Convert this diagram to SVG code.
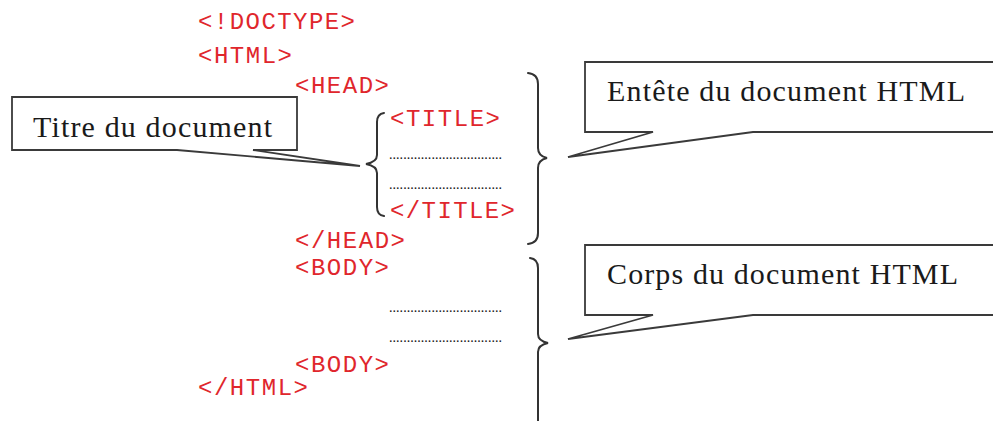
<svg xmlns="http://www.w3.org/2000/svg" width="993" height="421" viewBox="0 0 993 421">
<style>
.code{font-family:"Liberation Mono","Courier New",monospace;font-size:24px;fill:#e0262c;}
.dots{font-family:"Liberation Serif","Times New Roman",serif;font-size:14px;fill:#111;}
.lbl{font-family:"Liberation Serif","Times New Roman",serif;font-size:30px;fill:#1a1a1a;}
.box{fill:#fff;stroke:#3a3a3a;stroke-width:1.8;stroke-linejoin:miter;}
.brace{fill:none;stroke:#333;stroke-width:2;stroke-linecap:round;}
</style>
<rect width="993" height="421" fill="#fff"/>
<g id="code">
<g id="doctype"><text class="code" x="198" y="29" textLength="157" lengthAdjust="spacing">&lt;!DOCTYPE&gt;</text></g>
<g id="html-open"><text class="code" x="198" y="63" textLength="94" lengthAdjust="spacing">&lt;HTML&gt;</text></g>
<g id="head-open"><text class="code" x="295" y="93" textLength="94" lengthAdjust="spacing">&lt;HEAD&gt;</text></g>
<g id="title-open"><text class="code" x="390" y="126" textLength="110" lengthAdjust="spacing">&lt;TITLE&gt;</text></g>
<g id="title-dots1"><text class="dots" x="389" y="159" textLength="113" lengthAdjust="spacing">................................</text></g>
<g id="title-dots2"><text class="dots" x="389" y="189" textLength="113" lengthAdjust="spacing">................................</text></g>
<g id="title-close"><text class="code" x="390" y="218" textLength="125" lengthAdjust="spacing">&lt;/TITLE&gt;</text></g>
<g id="head-close"><text class="code" x="295" y="248" textLength="110" lengthAdjust="spacing">&lt;/HEAD&gt;</text></g>
<g id="body-open"><text class="code" x="295" y="275" textLength="94" lengthAdjust="spacing">&lt;BODY&gt;</text></g>
<g id="body-dots1"><text class="dots" x="389" y="312" textLength="113" lengthAdjust="spacing">................................</text></g>
<g id="body-dots2"><text class="dots" x="389" y="342" textLength="113" lengthAdjust="spacing">................................</text></g>
<g id="body-close"><text class="code" x="295" y="372" textLength="94" lengthAdjust="spacing">&lt;BODY&gt;</text></g>
<g id="html-close"><text class="code" x="198" y="395" textLength="110" lengthAdjust="spacing">&lt;/HTML&gt;</text></g>
</g>
<g id="callout-titre">
<path class="box" d="M12,97 L297,97 L297,150 L253,150 L360,166 L177,150 L12,150 Z"/>
<text class="lbl" x="33" y="137" textLength="239" lengthAdjust="spacing">Titre du document</text>
</g>
<g id="callout-entete">
<path class="box" d="M585,62 L996,62 L996,132 L753,132 L568,157 L653,132 L585,132 Z"/>
<text class="lbl" x="607" y="101" textLength="358" lengthAdjust="spacing">Entête du document HTML</text>
</g>
<g id="callout-corps">
<path class="box" d="M585,245 L996,245 L996,315 L753,315 L568,339 L653,315 L585,315 Z"/>
<text class="lbl" x="607" y="284" textLength="351" lengthAdjust="spacing">Corps du document HTML</text>
</g>
<g id="connectors">
<path class="brace" d="M384,113 Q377,114 377,122 L377,155 Q377,162 366,164 Q377,166 377,173 L377,207 Q377,215 384,216"/>
<path class="brace" d="M528,73 Q538,74 538,84 L538,148 Q538,156 547,158 Q538,160 538,168 L538,233 Q538,243 528,244"/>
<path class="brace" d="M530,258 Q538,259 538,268 L538,334 Q538,341 548,343 Q538,345 538,352 L538,422"/>
</g>
</svg>
